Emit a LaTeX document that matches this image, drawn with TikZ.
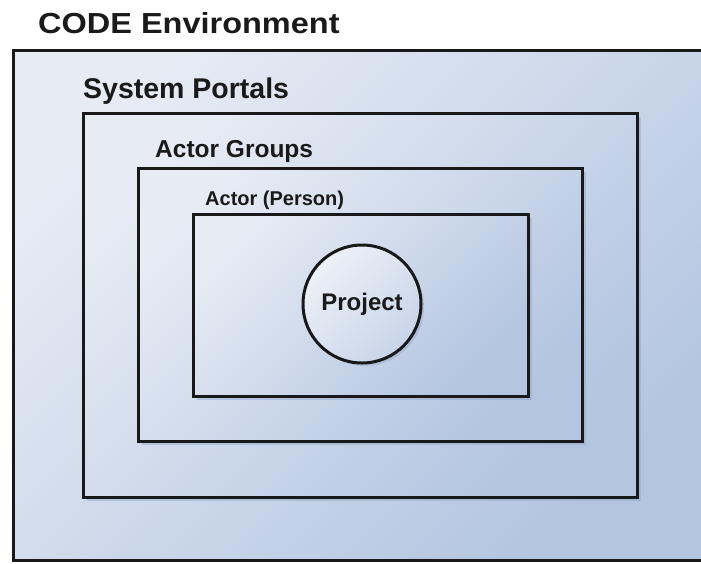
\documentclass[tikz,border=0pt]{standalone}
\usepackage{fontspec}
\setmainfont{Liberation Sans}
\usetikzlibrary{shadows,fit}
\definecolor{lightfill}{HTML}{E6EBF4}
\definecolor{darkfill}{HTML}{B3C5E1}
\definecolor{txt}{HTML}{1A1A1A}
\definecolor{shadowcol}{HTML}{8FA3C8}
\begin{document}
\begin{tikzpicture}[x=1pt,y=-1pt,
  framebox/.style={draw=black!90, line width=3pt, inner sep=0pt, shading=axis,
    top color=lightfill, bottom color=darkfill, shading angle=45},
  innerbox/.style={framebox, drop shadow={shadow xshift=4pt, shadow yshift=-4pt, fill=shadowcol, opacity=0.45}},
  lbl/.style={anchor=base west, inner sep=0pt, text=txt, font=\bfseries}]
  \useasboundingbox[fill=white] (0,0) rectangle (701,563);
  \begin{scope}
    \clip (0,0) rectangle (701,563);
    \coordinate (o1) at (13,50);
    \coordinate (o2) at (706,560);
    \node[framebox, fit=(o1)(o2)] (env) {};
  \end{scope}
  \coordinate (s1) at (83,113);
  \coordinate (s2) at (637,497);
  \node[innerbox, fit=(s1)(s2)] (portals) {};
  \coordinate (g1) at (138,168);
  \coordinate (g2) at (582,441);
  \node[innerbox, fit=(g1)(g2)] (groups) {};
  \coordinate (a1) at (193,214);
  \coordinate (a2) at (528,396);
  \node[innerbox, fit=(a1)(a2)] (actor) {};
  \node[circle, draw=black!90, line width=3pt, minimum size=118pt, inner sep=0pt,
    shading=axis, top color=lightfill!70!white, bottom color=darkfill!60!lightfill, shading angle=45,
    drop shadow={shadow xshift=3pt, shadow yshift=-3pt, fill=shadowcol, opacity=0.4}] (project) at (362,304) {};
  \node[text=txt, font=\bfseries\fontsize{24}{28}\selectfont, inner sep=0pt] (projlbl) at (project.center) {Project};
  \node[lbl, font=\bfseries\fontsize{29}{32}\selectfont, xscale=1.12] (envlbl) at (38,33) {CODE Environment};
  \node[lbl, font=\bfseries\fontsize{28.5}{32}\selectfont] (portlbl) at (83,98) {System Portals};
  \node[lbl, font=\bfseries\fontsize{24.5}{28}\selectfont] (grplbl) at (155,157) {Actor Groups};
  \node[lbl, font=\bfseries\fontsize{20}{24}\selectfont] (actlbl) at (205,205) {Actor (Person)};
\end{tikzpicture}
\end{document}
